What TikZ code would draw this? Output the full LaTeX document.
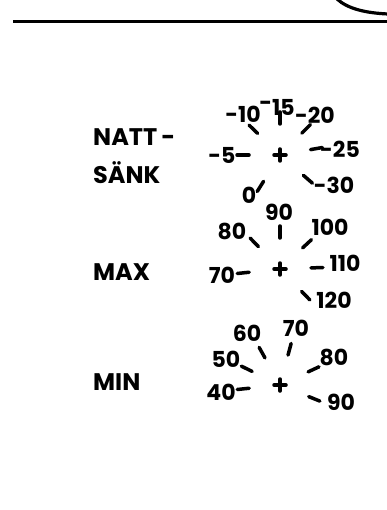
\documentclass[tikz,border=0pt]{standalone}
\usepackage{fontspec}
\setmainfont{Poppins}
\tikzset{
  tickline/.style={line width=3.5pt,line cap=round},
  num/.style={inner sep=0pt,font=\fontsize{22}{24}\selectfont\bfseries},
  word/.style={inner sep=0pt,anchor=base west,font=\fontsize{24}{26}\selectfont\bfseries}
}

\begin{document}
\begin{tikzpicture}[x=1pt,y=1pt]
  \useasboundingbox (0,0) rectangle (387,-510);
  % top rule and the curve above it
  \coordinate (rulel) at (13,-21.5);
  \coordinate (ruler) at (387,-21.5);
  \draw[line width=3.5pt] (rulel) -- (ruler);
  \coordinate (arca) at (337,1);
  \coordinate (arcb) at (388,-14);
  \draw[line width=3.2pt] (arca) .. controls (348,-9) and (366,-13) .. (arcb);

  % left labels
  \node[word] (natt) at (93,-146) {NATT\,-};
  \node[word] (sank) at (93,-184) {SÄNK};
  \node[word] (max) at (93,-280) {MAX};
  \node[word] (min) at (93,-390) {MIN};

  % dial centres
  \coordinate (cnatt) at (280,-155);
  \coordinate (cmax) at (280,-269);
  \coordinate (cmin) at (280,-385);
  \foreach \c in {cnatt,cmax,cmin}{
    \draw[tickline] (\c) ++(-6,0) -- ++(12,0);
    \draw[tickline] (\c) ++(0,-6) -- ++(0,12);
  }

  % ticks
  \foreach \a in {180,136,90,45,10,-41,238}
    \draw[tickline] (cnatt) ++(\a:31) -- ++(\a:12);
  \foreach \a in {186,134,90,43,2,-46}
    \draw[tickline] (cmax) ++(\a:31) -- ++(\a:12);
  \foreach \a in {186,154,119,75,25,-22}
    \draw[tickline] (cmin) ++(\a:31) -- ++(\a:12);

  % numbers, natt-sank
  \node[num] (natt5) at (222,-155) {-5};
  \node[num] (natt10) at (243,-114) {-10};
  \node[num] (natt15) at (277,-107) {\raisebox{5pt}{-}15};
  \node[num] (natt20) at (315,-115) {-20};
  \node[num] (natt25) at (340,-149) {-25};
  \node[num] (natt30) at (334,-185) {-30};
  \node[num] (natt0) at (249,-195) {0};

  % numbers, max
  \node[num] (max70) at (222,-275) {70};
  \node[num] (max80) at (232,-231) {80};
  \node[num] (max90) at (279,-212) {90};
  \node[num] (max100) at (330,-227) {100};
  \node[num] (max110) at (345,-263) {110};
  \node[num] (max120) at (334,-300) {120};

  % numbers, min
  \node[num] (min40) at (221,-392) {40};
  \node[num] (min50) at (226,-359) {50};
  \node[num] (min60) at (247,-333) {60};
  \node[num] (min70) at (296,-328) {70};
  \node[num] (min80) at (334,-357) {80};
  \node[num] (min90) at (341,-402) {90};
\end{tikzpicture}
\end{document}
